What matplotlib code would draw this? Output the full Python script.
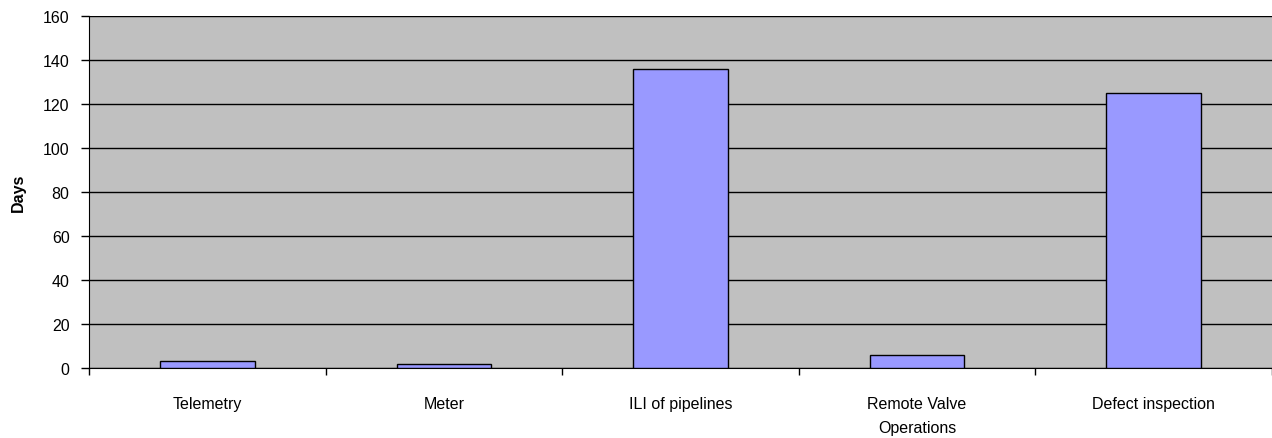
import matplotlib
matplotlib.use("Agg")
import matplotlib.pyplot as plt
import numpy as np

categories = ["Telemetry", "Meter", "ILI of pipelines", "Remote Valve\nOperations", "Defect inspection"]
days = [3, 2, 136, 6, 125]
yticks = [0, 20, 40, 60, 80, 100, 120, 140, 160]

plt.rcParams['font.family'] = ['Liberation Sans', 'DejaVu Sans']

fig = plt.figure(figsize=(12.72, 4.39), dpi=100)
ax = fig.add_axes([89/1272, 1 - 369/439, 1 - 89/1272, (369 - 17)/439])
ax.set_facecolor('#c0c0c0')

x = np.arange(len(categories))
ax.bar(x, days, width=0.4, color='#9999ff', edgecolor='black', linewidth=1, zorder=3)

ax.set_xlim(-0.5, len(categories) - 0.5)
ax.set_ylim(0, 160)
ax.set_yticks(yticks)
ax.set_yticklabels([str(v) for v in yticks], fontsize=11.5)
ax.yaxis.grid(True, color='black', linewidth=1, zorder=1)
ax.set_axisbelow(True)

ax.set_xticks(x)
ax.set_xticklabels(categories, fontsize=11.5, linespacing=1.75)
ax.tick_params(axis='x', length=0, pad=20)
ax.set_xticks(np.arange(len(categories) + 1) - 0.5, minor=True)
ax.tick_params(axis='x', which='minor', length=5, width=1, color='black', direction='out')
ax.tick_params(axis='y', length=6, width=1, direction='out', pad=8)

for s in ['top', 'right']:
    ax.spines[s].set_visible(False)
ax.spines['left'].set_color('black')
ax.spines['bottom'].set_color('black')

ax.set_ylabel('Days', fontsize=11.5, fontweight='bold', labelpad=12)

fig.savefig('out.png', dpi=100)
